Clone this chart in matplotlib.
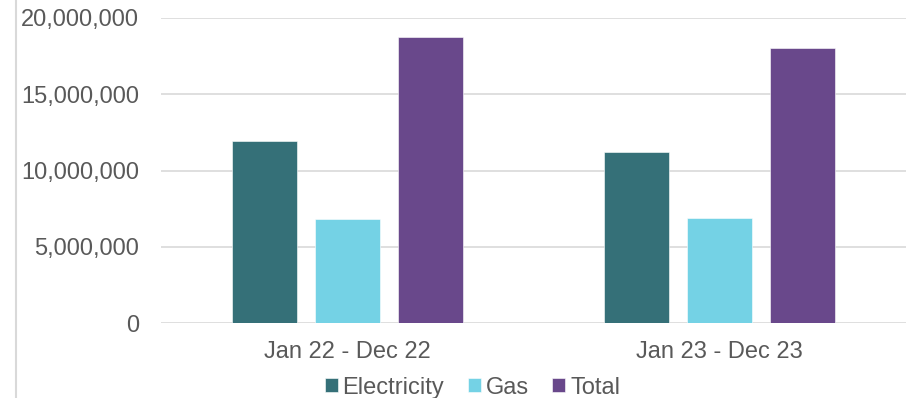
import numpy as np
import matplotlib
matplotlib.use("Agg")
import matplotlib.pyplot as plt
from matplotlib.ticker import FuncFormatter
from matplotlib.lines import Line2D

periods = ["Jan 22 - Dec 22", "Jan 23 - Dec 23"]
electricity = [11930000, 11190000]
gas = [6810000, 6870000]
total = [18760000, 18040000]

series = ["Electricity", "Gas", "Total"]
colors = ["#357078", "#74D2E5", "#69488B"]

plt.rcParams["font.family"] = ["Liberation Sans", "DejaVu Sans"]
text_col = "#595959"
grid_col = "#D9D9D9"

fig = plt.figure(figsize=(9.21, 3.98), dpi=100)
ax = fig.add_axes([0.1748, 0.1877, 0.8089, 0.7678])

x = np.arange(len(periods))
w = 0.1745
step = 0.2228
for i, (vals, name, c) in enumerate(zip([electricity, gas, total], series, colors)):
    ax.bar(x + (i - 1) * step, vals, width=w, color=c, label=name,
           edgecolor="white", linewidth=0.4, zorder=3)

ax.set_xlim(-0.5, 1.5)
ax.set_ylim(0, 20000000)
ax.set_yticks(np.arange(0, 20000001, 5000000))
ax.yaxis.set_major_formatter(FuncFormatter(lambda v, p: f"{int(v):,}"))
ax.set_xticks(x)
ax.set_xticklabels(periods)

ax.grid(axis="y", color=grid_col, linewidth=1.2, zorder=0)
for s in ax.spines.values():
    s.set_visible(False)
ax.tick_params(axis="y", length=0, pad=16, labelsize=17, labelcolor=text_col)
ax.tick_params(axis="x", length=0, pad=13, labelsize=17, labelcolor=text_col)

# thin border line on the left edge of the chart area
fig.add_artist(Line2D([16 / 921, 16 / 921], [0, 1], color=grid_col, linewidth=1.5))

fig.legend(loc="upper center", bbox_to_anchor=(0.513, 0.054), ncol=3, frameon=False,
           fontsize=17, labelcolor=text_col, handlelength=0.55, handleheight=0.55,
           handletextpad=0.2, columnspacing=1.0, borderaxespad=0, borderpad=0)

fig.savefig("out.png", dpi=100)
